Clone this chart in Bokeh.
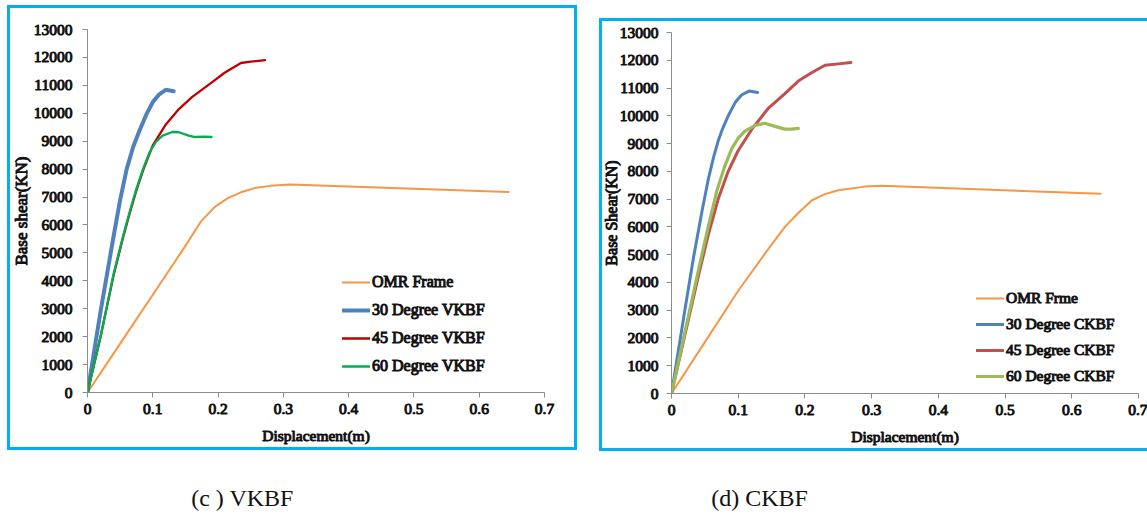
from bokeh.plotting import figure
from bokeh.models import Range1d, FixedTicker, Legend, LegendItem, Label
from bokeh.layouts import row, column
from bokeh.embed import file_html
from bokeh.resources import INLINE

# ---------------- data ----------------
x_ticks = [0, 0.1, 0.2, 0.3, 0.4, 0.5, 0.6, 0.7]
y_ticks = [0, 1000, 2000, 3000, 4000, 5000, 6000, 7000, 8000, 9000, 10000, 11000, 12000, 13000]

# (c) VKBF
vk_omr_d = [0, 0.05, 0.10, 0.15, 0.174, 0.195, 0.215, 0.235, 0.256, 0.28, 0.31, 0.645]
vk_omr_v = [0, 1750, 3500, 5250, 6130, 6650, 6960, 7170, 7320, 7400, 7450, 7180]
vk_30_d = [0, 0.02, 0.04, 0.05, 0.06, 0.07, 0.08, 0.09, 0.10, 0.11, 0.12, 0.132]
vk_30_v = [0, 2900, 5600, 6900, 8000, 8800, 9400, 9950, 10400, 10680, 10840, 10790]
vk_45_d = [0, 0.02, 0.04, 0.055, 0.065, 0.075, 0.085, 0.10, 0.12, 0.14, 0.16, 0.19, 0.21, 0.235, 0.25, 0.272]
vk_45_v = [0, 2000, 4200, 5600, 6450, 7250, 7950, 8850, 9600, 10150, 10580, 11100, 11450, 11800, 11850, 11900]
vk_60_d = [0, 0.02, 0.04, 0.055, 0.065, 0.075, 0.085, 0.095, 0.105, 0.115, 0.13, 0.14, 0.155, 0.165, 0.18, 0.19]
vk_60_v = [0, 2000, 4250, 5650, 6500, 7300, 8000, 8600, 8980, 9200, 9330, 9320, 9200, 9150, 9160, 9150]

# (d) CKBF
ck_omr_d = [0, 0.05, 0.10, 0.145, 0.17, 0.19, 0.21, 0.23, 0.25, 0.29, 0.315, 0.643]
ck_omr_v = [0, 1850, 3700, 5200, 6000, 6500, 6950, 7180, 7320, 7450, 7480, 7190]
ck_30_d = [0, 0.02, 0.033, 0.046, 0.055, 0.063, 0.07, 0.076, 0.085, 0.096, 0.105, 0.116, 0.129]
ck_30_v = [0, 3000, 4900, 6600, 7700, 8500, 9100, 9500, 10000, 10500, 10750, 10890, 10840]
ck_45_d = [0, 0.02, 0.04, 0.055, 0.07, 0.085, 0.10, 0.12, 0.145, 0.17, 0.19, 0.21, 0.23, 0.25, 0.269]
ck_45_v = [0, 2100, 4200, 5700, 7000, 8000, 8750, 9500, 10270, 10800, 11250, 11550, 11820, 11870, 11920]
ck_60_d = [0, 0.02, 0.04, 0.055, 0.068, 0.08, 0.09, 0.10, 0.11, 0.125, 0.14, 0.155, 0.17, 0.18, 0.19]
ck_60_v = [0, 2200, 4400, 6000, 7300, 8200, 8800, 9200, 9450, 9650, 9730, 9620, 9520, 9520, 9550]

vk_labels = ["OMR Frame", "30 Degree VKBF", "45 Degree VKBF", "60 Degree VKBF"]
ck_labels = ["OMR Frme", "30 Degree CKBF", "45 Degree CKBF", "60 Degree CKBF"]
captions = ["(c ) VKBF", "(d) CKBF"]

CYAN = "#00B0F0"
TXT = "#111111"
FONT = "Liberation Serif"


def set_outline(model, prefix):
    name = prefix + "text_outline_color"
    if name in model.properties():
        setattr(model, name, TXT)


def frame_bg(top_offset, sides):
    c = "linear-gradient(%s,%s)" % (CYAN, CYAN)
    parts = []
    if "top" in sides:
        parts.append("%s 0 %dpx / 100%% 3px no-repeat" % (c, top_offset))
    if "left" in sides:
        parts.append("%s 0 %dpx / 3px calc(100%% - %dpx) no-repeat" % (c, top_offset, top_offset))
    if "right" in sides:
        parts.append("%s 100%% %dpx / 3px calc(100%% - %dpx) no-repeat" % (c, top_offset, top_offset))
    if "bottom" in sides:
        parts.append("%s 0 100%% / 100%% 3px no-repeat" % c)
    return {"background": ", ".join(parts)}


def make_panel(series, labels, colors, widths, ytitle, width, height, borders,
               legend_loc, legend_spacing, styles, margin, lab_standoff, title_standoff,
               ytitle_size, legend_size):
    p = figure(width=width, height=height, output_backend="svg", toolbar_location=None,
               x_range=Range1d(0, 0.7), y_range=Range1d(0, 13000),
               min_border_left=borders[0], min_border_right=borders[1],
               min_border_top=borders[2], min_border_bottom=borders[3],
               tools="", styles=styles, margin=margin)
    p.title = None
    p.outline_line_color = None
    p.grid.visible = False
    p.background_fill_color = "white"
    p.border_fill_color = None
    renderers = []
    for (xd, yd), c, w in zip(series, colors, widths):
        r = p.line(xd, yd, line_color=c, line_width=w, line_join="round", line_cap="round")
        renderers.append(r)
    for ax in (p.xaxis[0], p.yaxis[0]):
        ax.axis_line_color = "#8c8c8c"
        ax.major_tick_line_color = "#8c8c8c"
        ax.minor_tick_line_color = None
        ax.major_tick_in = 0
        ax.major_tick_out = 5
        ax.major_label_text_font = FONT
        ax.major_label_text_font_size = "15.5px"
        ax.major_label_text_color = TXT
        ax.axis_label_text_font = FONT
        ax.axis_label_text_font_style = "normal"
        ax.axis_label_text_color = TXT
        set_outline(ax, "major_label_")
        set_outline(ax, "axis_label_")
    p.xaxis.ticker = FixedTicker(ticks=x_ticks)
    p.yaxis.ticker = FixedTicker(ticks=y_ticks)
    p.xaxis.major_label_overrides = {0: "0"}
    p.xaxis.axis_label = "Displacement(m)"
    p.yaxis.axis_label = ytitle
    p.xaxis.axis_label_text_font_size = "15.5px"
    p.yaxis.axis_label_text_font_size = ytitle_size
    p.xaxis.major_label_standoff = 6
    p.yaxis.major_label_standoff = lab_standoff
    p.xaxis.axis_label_standoff = 10
    p.yaxis.axis_label_standoff = title_standoff
    items = [LegendItem(label=l, renderers=[r]) for l, r in zip(labels, renderers)]
    lg = Legend(items=items, location=legend_loc, orientation="vertical",
                glyph_width=28, glyph_height=20, label_height=20, spacing=legend_spacing,
                padding=0, margin=0, label_standoff=2, border_line_color=None,
                background_fill_alpha=0, label_text_font=FONT,
                label_text_font_size=legend_size, label_text_color=TXT)
    set_outline(lg, "label_")
    p.add_layout(lg)
    return p


p1 = make_panel(
    [(vk_omr_d, vk_omr_v), (vk_30_d, vk_30_v), (vk_45_d, vk_45_v), (vk_60_d, vk_60_v)],
    vk_labels, ["#F79646", "#4F81BD", "#C00000", "#00B050"], [2, 4, 2.3, 2.3],
    "Base shear(KN)", 570, 445, (80, 33, 24, 58), (255, 16), 8,
    frame_bg(0, ("top", "left", "right", "bottom")), (5, 0, 0, 7), 10, 0, "17px", "16px")

p2 = make_panel(
    [(ck_omr_d, ck_omr_v), (ck_30_d, ck_30_v), (ck_45_d, ck_45_v), (ck_60_d, ck_60_v)],
    ck_labels, ["#F79646", "#4F81BD", "#C0504D", "#9BBB59"], [2, 3, 3, 3.2],
    "Base Shear(KN)", 548, 443, (70, 9, 24, 57), (305, 7), 6,
    frame_bg(10, ("top", "left", "bottom")), (8, 0, 0, 22), 8, -3, "16px", "15.5px")

p3 = figure(width=1147, height=63, output_backend="svg", toolbar_location=None, tools="",
            x_range=Range1d(0, 1147), y_range=Range1d(0, 63),
            min_border=0, margin=(0, 0, 0, 0))
p3.title = None
p3.axis.visible = False
p3.grid.visible = False
p3.outline_line_color = None
for txt, xc in zip(captions, [242, 759]):
    p3.add_layout(Label(x=xc, y=17, text=txt, text_align="center", text_baseline="middle",
                        text_font=FONT, text_font_size="24px", text_color=TXT))

layout = column(row(p1, p2, spacing=0), p3, spacing=0)
open("out.html", "w").write(file_html(layout, INLINE))
